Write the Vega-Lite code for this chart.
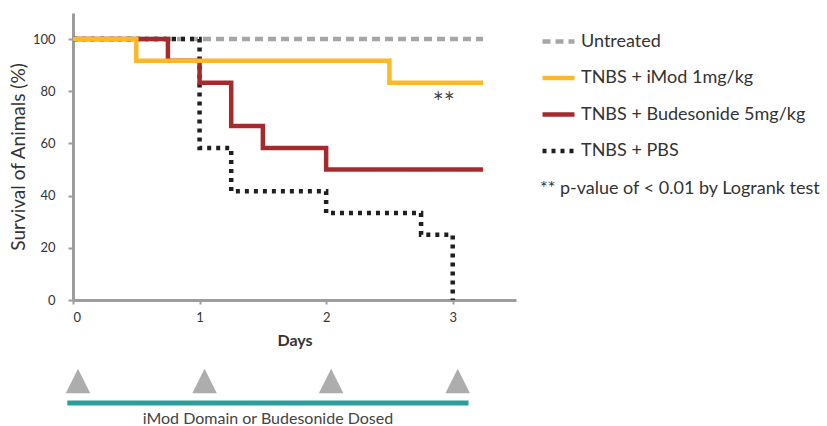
{
  "$schema": "https://vega.github.io/schema/vega-lite/v6.json",
  "padding": {"left": 9, "top": 13, "right": 0, "bottom": 0},
  "background": "white",
  "spacing": 6,
  "config": {
    "font": "Lato",
    "view": {"stroke": null},
    "axis": {
      "grid": false,
      "domainColor": "#9c9c9c",
      "domainWidth": 3,
      "tickColor": "#9c9c9c",
      "tickWidth": 2,
      "labelColor": "#333333",
      "labelFontSize": 13,
      "titleColor": "#333333"
    }
  },
  "vconcat": [
    {
      "width": 443,
      "height": 287,
      "layer": [
        {
          "data": {
            "values": [
              {"group": "Untreated", "day": 0, "survival": 100},
              {"group": "Untreated", "day": 3.24, "survival": 100},
              {"group": "TNBS + PBS", "day": 0, "survival": 100},
              {"group": "TNBS + PBS", "day": 1.0, "survival": 58.3},
              {"group": "TNBS + PBS", "day": 1.25, "survival": 41.7},
              {"group": "TNBS + PBS", "day": 2.0, "survival": 33.3},
              {"group": "TNBS + PBS", "day": 2.75, "survival": 25},
              {"group": "TNBS + PBS", "day": 3.0, "survival": 0},
              {"group": "TNBS + Budesonide 5mg/kg", "day": 0, "survival": 100},
              {"group": "TNBS + Budesonide 5mg/kg", "day": 0.75, "survival": 91.7},
              {"group": "TNBS + Budesonide 5mg/kg", "day": 1.0, "survival": 83.3},
              {"group": "TNBS + Budesonide 5mg/kg", "day": 1.25, "survival": 66.7},
              {"group": "TNBS + Budesonide 5mg/kg", "day": 1.5, "survival": 58.3},
              {"group": "TNBS + Budesonide 5mg/kg", "day": 2.0, "survival": 50},
              {"group": "TNBS + Budesonide 5mg/kg", "day": 3.24, "survival": 50},
              {"group": "TNBS + iMod 1mg/kg", "day": 0, "survival": 100},
              {"group": "TNBS + iMod 1mg/kg", "day": 0.5, "survival": 91.7},
              {"group": "TNBS + iMod 1mg/kg", "day": 2.5, "survival": 83.3},
              {"group": "TNBS + iMod 1mg/kg", "day": 3.24, "survival": 83.3}
            ]
          },
          "encoding": {
            "x": {
              "field": "day", "type": "quantitative",
              "scale": {"domain": [0, 3.5], "nice": false},
              "axis": {"values": [0, 1, 2, 3], "format": "d", "title": "Days", "titleFontWeight": "bold", "titleFontSize": 16, "tickSize": 4, "labelPadding": 7, "titlePadding": 8}
            },
            "y": {
              "field": "survival", "type": "quantitative",
              "scale": {"domain": [0, 110], "nice": false},
              "axis": {"values": [0, 20, 40, 60, 80, 100], "title": "Survival of Animals (%)", "titleFontWeight": "normal", "titleFontSize": 19, "tickSize": 5, "labelPadding": 13, "titlePadding": 4}
            },
            "color": {
              "field": "group", "type": "nominal", "title": "** p-value of < 0.01 by Logrank test",
              "scale": {
                "domain": ["Untreated", "TNBS + iMod 1mg/kg", "TNBS + Budesonide 5mg/kg", "TNBS + PBS"],
                "range": ["#a6a6a6", "#fbb829", "#a52a2e", "#1f1f1f"]
              },
              "legend": {
                "orient": "none", "legendX": 467, "legendY": 10,
                "symbolType": "stroke", "symbolSize": 1024, "symbolStrokeWidth": 4.5,
                "labelFontSize": 18, "labelColor": "#333333", "labelOffset": 4, "labelLimit": 400,
                "rowPadding": 8.5, "padding": 0,
                "titleOrient": "bottom", "titleFontWeight": "normal", "titleFontSize": 18, "titleColor": "#333333", "titlePadding": 20, "titleLimit": 400,
                "encode": {
                  "symbols": {
                    "update": {
                      "strokeDash": {"signal": "datum.value === 'Untreated' ? [13, 4] : (datum.value === 'TNBS + PBS' ? [4, 2.5] : [1, 0])"}
                    }
                  }
                }
              }
            },
            "strokeDash": {
              "field": "group", "type": "nominal", "title": "** p-value of < 0.01 by Logrank test",
              "scale": {
                "domain": ["Untreated", "TNBS + iMod 1mg/kg", "TNBS + Budesonide 5mg/kg", "TNBS + PBS"],
                "range": [[8, 5], [1, 0], [1, 0], [4, 5]]
              }
            }
          },
          "layer": [
            {
              "transform": [{"filter": "datum.group === 'Untreated'"}],
              "mark": {"type": "line", "interpolate": "step-after", "strokeWidth": 4.5, "strokeCap": "butt", "strokeJoin": "miter"}
            },
            {
              "transform": [{"filter": "datum.group === 'TNBS + PBS'"}],
              "mark": {"type": "line", "interpolate": "step-after", "strokeWidth": 4.5, "strokeCap": "butt", "strokeJoin": "miter"}
            },
            {
              "transform": [{"filter": "datum.group === 'TNBS + Budesonide 5mg/kg'"}],
              "mark": {"type": "line", "interpolate": "step-after", "strokeWidth": 4.5, "strokeCap": "butt", "strokeJoin": "miter"}
            },
            {
              "transform": [{"filter": "datum.group === 'TNBS + iMod 1mg/kg'"}],
              "mark": {"type": "line", "interpolate": "step-after", "strokeWidth": 4.5, "strokeCap": "butt", "strokeJoin": "miter"}
            }
          ]
        },
        {
          "data": {"values": [{"day": 2.93, "survival": 77, "label": "**"}]},
          "mark": {"type": "text", "fontSize": 26, "color": "#444444", "baseline": "middle", "align": "center", "dy": 5},
          "encoding": {
            "x": {"field": "day", "type": "quantitative"},
            "y": {"field": "survival", "type": "quantitative"},
            "text": {"field": "label"}
          }
        }
      ]
    },
    {
      "width": 443,
      "height": 70,
      "layer": [
        {
          "data": {"values": [{"day": 0}, {"day": 1}, {"day": 2}, {"day": 3}]},
          "mark": {"type": "point", "shape": "M0,-1L1,1L-1,1Z", "filled": true, "size": 600, "color": "#adadad", "opacity": 1, "xOffset": 5},
          "encoding": {
            "x": {"field": "day", "type": "quantitative", "scale": {"domain": [0, 3.5], "nice": false}, "axis": null},
            "y": {"datum": 0.614, "type": "quantitative", "scale": {"domain": [0, 1]}, "axis": null}
          }
        },
        {
          "data": {"values": [{"start": -0.045, "end": 3.125, "label": "iMod Domain or Budesonide Dosed"}]},
          "layer": [
            {
              "mark": {"type": "rule", "color": "#2b9e9c", "strokeWidth": 5},
              "encoding": {
                "x": {"field": "start", "type": "quantitative"},
                "x2": {"field": "end"},
                "y": {"datum": 0.3, "type": "quantitative"}
              }
            },
            {
              "mark": {"type": "text", "fontSize": 16, "color": "#444444", "baseline": "middle", "align": "center"},
              "encoding": {
                "x": {"datum": 1.54, "type": "quantitative"},
                "y": {"datum": 0.071, "type": "quantitative"},
                "text": {"field": "label"}
              }
            }
          ]
        }
      ]
    }
  ]
}
